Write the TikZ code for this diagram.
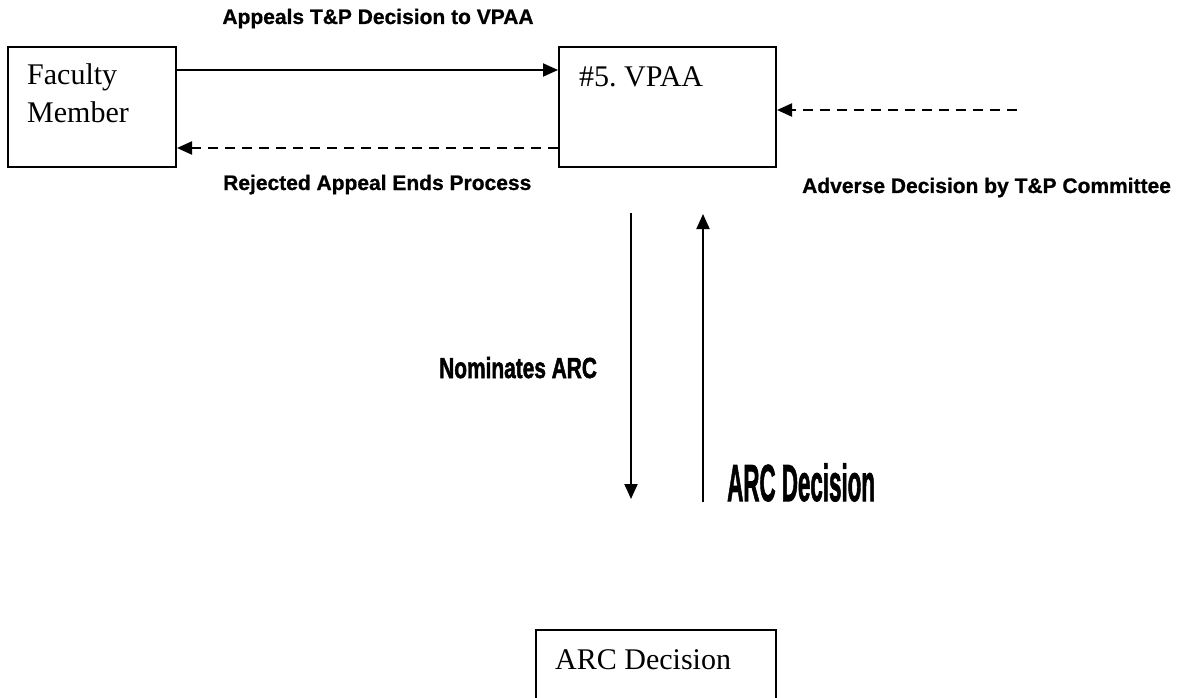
\documentclass[tikz,border=0pt]{standalone}
\usepackage{fontspec}
\setmainfont{Liberation Serif}
\newfontfamily\labfont{Liberation Sans Bold}[FakeBold=0.8]
\newfontfamily\heavyfont{Liberation Sans Bold}[FakeBold=2]
\usetikzlibrary{arrows.meta}
\begin{document}
\begin{tikzpicture}[x=1pt,y=-1pt,
  box/.style={draw, line width=2pt, inner sep=0pt, anchor=north west},
  conn/.style={line width=2pt, -{Triangle[length=15pt,width=13pt]}},
  dashconn/.style={conn, dash pattern=on 10pt off 7pt},
  lab/.style={font=\labfont\fontsize{21}{25}\selectfont, inner sep=0pt},
  biglab/.style={font=\heavyfont\fontsize{#1}{#1}\selectfont, inner sep=0pt, anchor=base west},
  btxt/.style={font=\frenchspacing\fontsize{30}{38}\selectfont, inner sep=0pt, anchor=base west}]
\useasboundingbox (0,0) rectangle (1178,698);
\clip (0,0) rectangle (1178,698);
% boxes
\node[box, minimum width=168pt, minimum height=120pt] (fac) at (7,46) {};
\node[box, minimum width=217pt, minimum height=120pt] (vpaa) at (558,46) {};
\node[box, minimum width=240pt, minimum height=110pt] (arc) at (535,629) {};
% box texts
\node[btxt] (facA) at (27,85) {Faculty};
\node[btxt] (facB) at (27,123) {Member};
\node[btxt] (vpaaT) at (579,87) {\#5. VPAA};
\node[btxt] (arcT) at (555,669) {ARC Decision};
% connectors
\coordinate (y70) at (0,70);
\coordinate (y148) at (0,148);
\coordinate (advS) at (1017,110);
\draw[conn] (fac.east |- y70) -- (vpaa.west |- y70);
\draw[dashconn] (vpaa.west |- y148) -- (fac.east |- y148);
\draw[dashconn] (advS) -- (vpaa.east |- advS);
\coordinate (nomS) at (631,213);
\coordinate (nomE) at (631,499);
\coordinate (decS) at (703,502);
\coordinate (decE) at (703,214);
\draw[conn] (nomS) -- (nomE);
\draw[conn] (decS) -- (decE);
% labels
\node[lab, anchor=base] (apL) at (378,24) {Appeals T\&P Decision to VPAA};
\node[lab, anchor=base west] (rejL) at (223,190) {Rejected Appeal Ends Process};
\node[lab, anchor=base west] (advL) at (802,193) {Adverse Decision by T\&P Committee};
\node[biglab=29] (nomL) at (439,378) {\scalebox{0.72}[1]{Nominates ARC}};
\node[biglab=52] (decL) at (727,501) {\scalebox{0.43}[1]{ARC Decision}};
\end{tikzpicture}
\end{document}
